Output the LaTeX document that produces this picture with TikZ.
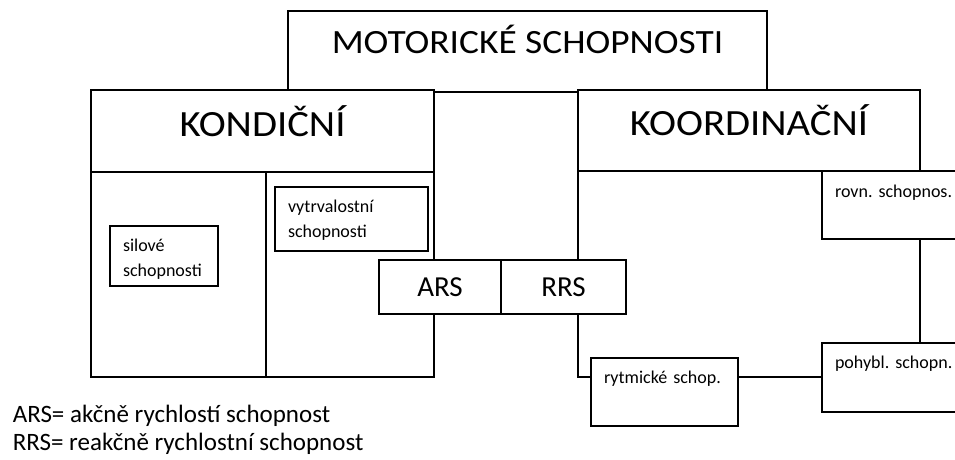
\documentclass[tikz,border=0pt]{standalone}
\usepackage{fontspec}
\setmainfont{Carlito}
\newfontfamily\headfont{Carlito}[FakeStretch=1.1]
\usetikzlibrary{positioning}
\frenchspacing

\begin{document}
\begin{tikzpicture}[x=1pt,y=-1pt,line width=1.6pt,
    box/.style={draw,fill=white,anchor=north west,inner sep=0pt,outer sep=0pt},
    headbox/.style={box,font=\headfont\fontsize{34}{40}\selectfont},
    bighead/.style={box,font=\headfont\fontsize{37}{42}\selectfont},
    smallbox/.style={box,align=left,inner xsep=13pt,font=\fontsize{18}{25}\selectfont},
    rsbox/.style={box,minimum height=54pt,font=\fontsize{29}{34}\selectfont},
    legendtext/.style={anchor=base west,inner sep=0pt,font=\fontsize{25}{28}\selectfont}]
  \useasboundingbox (0,0) rectangle (955,460);
  \clip (0,0) rectangle (955,460);
  % header boxes
  \node[headbox,minimum width=479pt,text height=42pt,text depth=39pt] (motor) at (288,11) {MOTORICKÉ SCHOPNOSTI};
  \node[bighead,minimum width=343pt,text height=46pt,text depth=36pt] (kond) at (91,90) {KONDIČNÍ};
  \node[box,minimum width=343pt,minimum height=205pt] (kondbody) at (kond.south west) {};
  \draw ([xshift=3.5pt]kondbody.north) -- ([xshift=3.5pt]kondbody.south);
  \node[bighead,minimum width=342pt,text height=45pt,text depth=36pt] (koord) at (578,90) {KOORDINAČNÍ};
  \node[box,minimum width=420pt,minimum height=206pt] (koordbody) at (koord.south west) {};
  \draw (koord.south east) -- (koord.south east |- koordbody.south);
  % inner boxes
  \node[smallbox,text width=82pt,text height=25pt,text depth=35pt] (silove) at (110,226) {silové\\schopnosti};
  \node[smallbox,text width=127pt,text height=25pt,text depth=39pt] (vytrval) at (275,187) {vytrvalostní\\schopnosti};
  \node[rsbox,minimum width=122pt] (ars) at (379,260) {ARS};
  \node[rsbox,minimum width=125pt,right=0pt of ars] (rrs) {RRS};
  \node[smallbox,text width=121pt,text height=25pt,text depth=43pt] (rytm) at (591,358) {rytmické schop.};
  \node[smallbox,text width=142pt,text height=26pt,text depth=42pt] (rovn) at (822,171) {rovn. schopnos.};
  \node[smallbox,text width=142pt,text height=25pt,text depth=44pt] (pohyb) at (822,343) {pohybl. schopn.};
  % legend
  \node[legendtext] (legars) at (12,422) {ARS= akčně rychlostí schopnost};
  \node[legendtext] (legrrs) at (12,450) {RRS= reakčně rychlostní schopnost};
\end{tikzpicture}
\end{document}
